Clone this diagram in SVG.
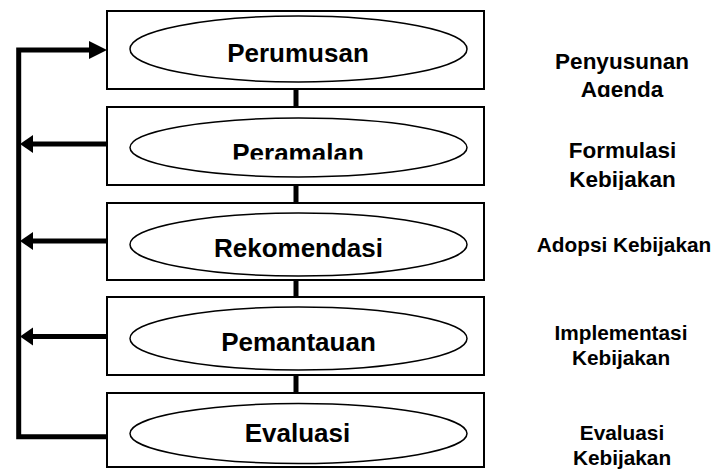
<svg xmlns="http://www.w3.org/2000/svg" width="715" height="469" viewBox="0 0 715 469">
<style>
.box{fill:#fff;stroke:#000;stroke-width:2}
.ell{fill:#fff;stroke:#000;stroke-width:1.5}
.lbl{font-family:"Liberation Sans",Arial,sans-serif;font-weight:bold;font-size:26px;text-anchor:middle;fill:#000}
.side{font-family:"Liberation Sans",Arial,sans-serif;font-weight:bold;text-anchor:middle;fill:#000}
.conn{stroke:#000;stroke-width:5;fill:none}
.head{fill:#000;stroke:none}
</style>
<defs>
<clipPath id="clipPeramalan"><rect x="110" y="100" width="370" height="59.5"/></clipPath>
<clipPath id="clipAgenda"><rect x="500" y="0" width="215" height="97"/></clipPath>
<clipPath id="clipFormulasi"><rect x="500" y="120" width="215" height="70"/></clipPath>
</defs>
<rect width="715" height="469" fill="#fff"/>

<g id="connectors">
<line class="conn" x1="296" y1="89" x2="296" y2="107"/>
<line class="conn" x1="296" y1="185" x2="296" y2="203"/>
<line class="conn" x1="296" y1="280" x2="296" y2="297"/>
<line class="conn" x1="296" y1="375" x2="296" y2="393"/>
<polyline class="conn" points="107,436.7 18.7,436.7 18.7,50 90,50"/>
<polygon class="head" points="89,41 107,50 89,59"/>
<line class="conn" x1="107" y1="144" x2="32" y2="144"/>
<polygon class="head" points="20,144 33,135 33,153"/>
<line class="conn" x1="107" y1="241" x2="32" y2="241"/>
<polygon class="head" points="20,241 33,232 33,250"/>
<line class="conn" x1="107" y1="336.5" x2="32" y2="336.5"/>
<polygon class="head" points="20,336.5 33,327.5 33,345.5"/>
</g>

<g id="node-perumusan">
<rect class="box" x="107" y="11" width="377" height="78"/>
<ellipse class="ell" cx="298.5" cy="49" rx="168.5" ry="33"/>
<text class="lbl" x="298" y="62">Perumusan</text>
</g>
<g id="node-peramalan">
<rect class="box" x="107" y="107" width="377" height="78"/>
<ellipse class="ell" cx="298.5" cy="147.5" rx="168.5" ry="29.5"/>
<text class="lbl" x="298" y="162" clip-path="url(#clipPeramalan)">Peramalan</text>
</g>
<g id="node-rekomendasi">
<rect class="box" x="107" y="203" width="377" height="77"/>
<ellipse class="ell" cx="298.5" cy="244.5" rx="168.5" ry="31.5"/>
<text class="lbl" x="298.5" y="257">Rekomendasi</text>
</g>
<g id="node-pemantauan">
<rect class="box" x="107" y="297" width="377" height="78"/>
<ellipse class="ell" cx="298.5" cy="338.5" rx="168.5" ry="31.5"/>
<text class="lbl" x="298.5" y="350.5">Pemantauan</text>
</g>
<g id="node-evaluasi">
<rect class="box" x="107" y="393" width="377" height="74"/>
<ellipse class="ell" cx="298.5" cy="433.5" rx="168.5" ry="30"/>
<text class="lbl" x="297.5" y="442">Evaluasi</text>
</g>

<g id="side-labels">
<text class="side" font-size="22.5" x="622" y="68.5">Penyusunan</text>
<text class="side" font-size="22.5" x="622" y="97" clip-path="url(#clipAgenda)">Agenda</text>
<text class="side" font-size="22.5" x="622.5" y="158.3">Formulasi</text>
<text class="side" font-size="22.5" x="622.5" y="187.3" clip-path="url(#clipFormulasi)">Kebijakan</text>
<text class="side" font-size="20.8" x="624" y="252">Adopsi Kebijakan</text>
<text class="side" font-size="20.8" x="621" y="340">Implementasi</text>
<text class="side" font-size="20.8" x="621" y="365">Kebijakan</text>
<text class="side" font-size="20.8" x="622" y="440">Evaluasi</text>
<text class="side" font-size="20.8" x="622" y="465">Kebijakan</text>
</g>
</svg>
